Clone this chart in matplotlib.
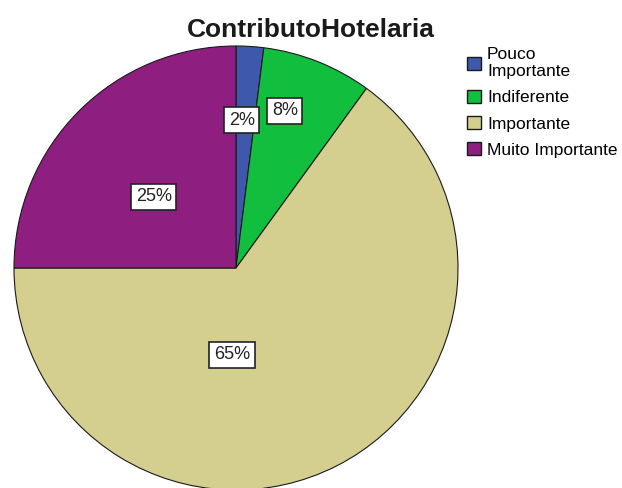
import matplotlib
matplotlib.use('Agg')
import matplotlib.pyplot as plt
import numpy as np

categorias = ['Pouco\nImportante', 'Indiferente', 'Importante', 'Muito Importante']
percentagens = [2, 8, 65, 25]
cores = ['#3E58AC', '#12BE3E', '#D5CF8F', '#8E1E80']

# posicao das etiquetas (fracao do raio, angulo em graus) como no SPSS
pos_etiquetas = [(0.667, 87.7), (0.741, 72.7), (0.392, -92.6), (0.489, 139.1)]

plt.rcParams['font.family'] = ['Liberation Sans', 'DejaVu Sans']

fig = plt.figure(figsize=(6.22, 4.88), dpi=100)
W, H = 622, 488
cx, cy, r = 236, 268, 222
ax = fig.add_axes([(cx - r) / W, (H - cy - r) / H, 2 * r / W, 2 * r / H])

wedges, textos = ax.pie(percentagens, colors=cores, startangle=90, counterclock=False,
                        radius=1, wedgeprops=dict(edgecolor='#1a1a1a', linewidth=0.8))
ax.set_xlim(-1, 1)
ax.set_ylim(-1, 1)
ax.set_aspect('equal')
ax.axis('off')

for p, (rr, ang) in zip(percentagens, pos_etiquetas):
    a = np.deg2rad(ang)
    ax.text(rr * np.cos(a), rr * np.sin(a), f'{p}%', ha='center', va='center',
            fontsize=13, color='#222222',
            bbox=dict(boxstyle='square,pad=0.25', facecolor='white', edgecolor='#222222', linewidth=1.2))

fig.text(0.5, 1 - 30 / H, 'ContributoHotelaria', ha='center', va='center',
         fontsize=19, fontweight='bold', color='#1a1a1a')

leg = fig.legend(wedges, categorias, loc='upper left', bbox_to_anchor=(467 / W, 1 - 47 / H),
                 frameon=False, fontsize=12.5, handlelength=0.8, handleheight=0.8,
                 handletextpad=0.35, labelspacing=0.6, borderaxespad=0, borderpad=0)
for h in leg.legend_handles:
    h.set_edgecolor('#1a1a1a')
    h.set_linewidth(1)

fig.savefig('out.png', dpi=100, facecolor='white')
